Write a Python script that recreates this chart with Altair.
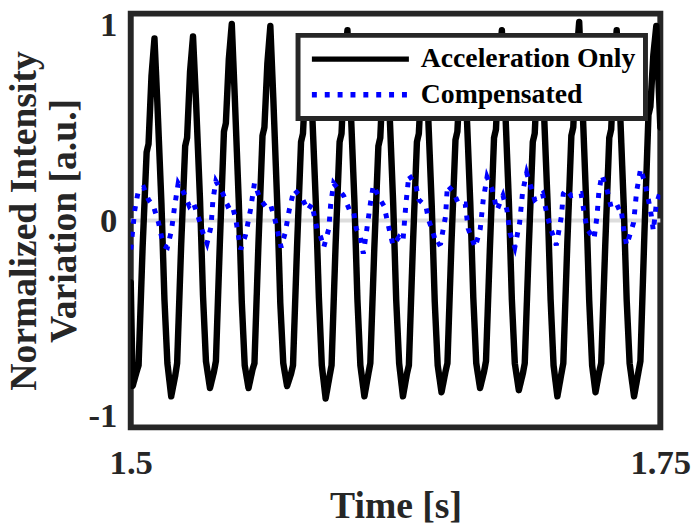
import altair as alt
import pandas as pd

# ---- data ----
series_names = ["Acceleration Only", "Compensated"]
series_colors = ["#000000", "#0000ff"]
x_ticks = [1.5, 1.75]
y_ticks = [-1, 0, 1]
y_title = ["Normalized Intensity", "Variation [a.u.]"]

t_accel = [
    1.5000,
    1.5009, 1.5028, 1.5037, 1.5056, 1.5075, 1.5084, 1.5098, 1.5112, 1.5126, 1.5145, 1.5159, 1.5173,
    1.5191, 1.5210, 1.5219, 1.5238, 1.5257, 1.5266, 1.5280, 1.5294, 1.5308, 1.5327, 1.5341, 1.5355,
    1.5374, 1.5393, 1.5402, 1.5421, 1.5440, 1.5449, 1.5463, 1.5477, 1.5491, 1.5510, 1.5524, 1.5538,
    1.5556, 1.5575, 1.5584, 1.5603, 1.5622, 1.5631, 1.5645, 1.5659, 1.5673, 1.5692, 1.5706, 1.5720,
    1.5738, 1.5757, 1.5766, 1.5785, 1.5804, 1.5813, 1.5827, 1.5841, 1.5855, 1.5874, 1.5888, 1.5902,
    1.5920, 1.5939, 1.5948, 1.5967, 1.5986, 1.5995, 1.6009, 1.6023, 1.6037, 1.6056, 1.6070, 1.6084,
    1.6103, 1.6122, 1.6131, 1.6150, 1.6169, 1.6178, 1.6192, 1.6206, 1.6220, 1.6239, 1.6253, 1.6267,
    1.6285, 1.6304, 1.6313, 1.6332, 1.6351, 1.6360, 1.6374, 1.6388, 1.6402, 1.6421, 1.6435, 1.6449,
    1.6467, 1.6486, 1.6495, 1.6514, 1.6533, 1.6542, 1.6556, 1.6570, 1.6584, 1.6603, 1.6617, 1.6631,
    1.6649, 1.6668, 1.6677, 1.6696, 1.6715, 1.6724, 1.6738, 1.6752, 1.6766, 1.6785, 1.6799, 1.6813,
    1.6832, 1.6851, 1.6860, 1.6879, 1.6898, 1.6907, 1.6921, 1.6935, 1.6949, 1.6968, 1.6982, 1.6996,
    1.7014, 1.7033, 1.7042, 1.7061, 1.7080, 1.7089, 1.7103, 1.7117, 1.7131, 1.7150, 1.7164, 1.7178,
    1.7194, 1.7212, 1.7221, 1.7240, 1.7259, 1.7268, 1.7282, 1.7294, 1.7308, 1.7327, 1.7341, 1.7355,
    1.7376, 1.7397, 1.7406, 1.7425, 1.7444, 1.7453, 1.7467, 1.7481, 1.7495, 1.7500,
]
v_accel = [
    -0.30,
    -0.80, -0.73, -0.70, -0.13, 0.33, 0.37, 0.70, 0.88, 0.56, 0.08, -0.38, -0.69,
    -0.85, -0.75, -0.69, -0.12, 0.36, 0.40, 0.72, 0.89, 0.58, 0.10, -0.36, -0.68,
    -0.81, -0.73, -0.68, -0.10, 0.43, 0.47, 0.78, 0.95, 0.60, 0.09, -0.39, -0.70,
    -0.81, -0.72, -0.69, -0.11, 0.41, 0.45, 0.76, 0.94, 0.59, 0.07, -0.40, -0.69,
    -0.80, -0.74, -0.70, -0.13, 0.38, 0.42, 0.71, 0.87, 0.56, 0.08, -0.37, -0.70,
    -0.86, -0.75, -0.70, -0.12, 0.38, 0.42, 0.74, 0.92, 0.58, 0.09, -0.38, -0.70,
    -0.85, -0.74, -0.69, -0.13, 0.36, 0.40, 0.72, 0.88, 0.57, 0.08, -0.38, -0.69,
    -0.85, -0.74, -0.70, -0.12, 0.38, 0.42, 0.71, 0.86, 0.56, 0.07, -0.39, -0.70,
    -0.83, -0.73, -0.69, -0.11, 0.39, 0.43, 0.72, 0.87, 0.57, 0.08, -0.37, -0.69,
    -0.81, -0.73, -0.68, -0.12, 0.40, 0.44, 0.75, 0.92, 0.59, 0.09, -0.38, -0.69,
    -0.82, -0.74, -0.69, -0.13, 0.38, 0.42, 0.72, 0.88, 0.57, 0.08, -0.38, -0.70,
    -0.85, -0.74, -0.69, -0.11, 0.41, 0.45, 0.78, 0.96, 0.60, 0.09, -0.38, -0.70,
    -0.83, -0.73, -0.69, -0.12, 0.40, 0.44, 0.75, 0.92, 0.58, 0.08, -0.38, -0.69,
    -0.85, -0.73, -0.68, -0.06, 0.51, 0.55, 0.80, 0.94, 0.58, 0.45,
]

t_comp = [
    1.5000, 1.5019, 1.5037, 1.5061, 1.5084, 1.5107, 1.5131, 1.5154, 1.5173, 1.5192,
    1.5206, 1.5224, 1.5252, 1.5276, 1.5294, 1.5318, 1.5341, 1.5360, 1.5379, 1.5388,
    1.5402, 1.5435, 1.5458, 1.5477, 1.5495, 1.5519, 1.5542, 1.5565, 1.5584, 1.5612,
    1.5636, 1.5659, 1.5682, 1.5710, 1.5729, 1.5748, 1.5771, 1.5808, 1.5836, 1.5855,
    1.5879, 1.5897, 1.5911, 1.5935, 1.5944, 1.5958, 1.6005, 1.6033, 1.6051, 1.6065,
    1.6084, 1.6098, 1.6112, 1.6131, 1.6145, 1.6178, 1.6196, 1.6215, 1.6238, 1.6266,
    1.6285, 1.6299, 1.6313, 1.6346, 1.6360, 1.6393, 1.6407, 1.6425, 1.6444, 1.6463,
    1.6486, 1.6495, 1.6523, 1.6547, 1.6579, 1.6593, 1.6626, 1.6650, 1.6664, 1.6682,
    1.6706, 1.6729, 1.6757, 1.6776, 1.6790, 1.6813, 1.6836, 1.6850, 1.6869, 1.6893,
    1.6907, 1.6944, 1.6967, 1.6986, 1.7009, 1.7033, 1.7042, 1.7056, 1.7079, 1.7126,
    1.7140, 1.7154, 1.7187, 1.7201, 1.7210, 1.7224, 1.7248, 1.7271, 1.7313, 1.7327,
    1.7341, 1.7374, 1.7388, 1.7407, 1.7430, 1.7444, 1.7458, 1.7467, 1.7481, 1.7500,
]
v_comp = [
    -0.14, 0.05, 0.15, 0.16, 0.10, 0.07, -0.01, -0.12, -0.13, -0.05,
    0.06, 0.18, 0.13, 0.07, 0.09, 0.02, -0.06, -0.11, -0.03, 0.10,
    0.19, 0.13, 0.07, 0.08, 0.01, -0.14, -0.07, 0.05, 0.18, 0.10,
    0.07, 0.08, 0.00, -0.13, -0.06, 0.05, 0.15, 0.11, 0.05, 0.08,
    -0.04, -0.08, -0.13, -0.04, 0.08, 0.18, 0.12, 0.05, 0.05, -0.04,
    -0.08, -0.16, -0.06, 0.08, 0.17, 0.10, 0.07, -0.02, -0.12, -0.08,
    -0.10, 0.08, 0.22, 0.17, 0.10, 0.07, 0.00, -0.05, -0.12, -0.11,
    0.02, 0.17, 0.14, 0.08, 0.08, -0.04, -0.13, -0.04, 0.10, 0.21,
    0.15, 0.05, 0.12, 0.05, -0.06, -0.13, -0.01, 0.14, 0.23, 0.15,
    0.10, 0.13, 0.02, -0.05, -0.12, 0.02, 0.13, 0.15, 0.12, 0.13,
    0.04, -0.04, -0.09, 0.02, 0.14, 0.22, 0.15, 0.05, 0.07, -0.04,
    -0.12, -0.01, 0.14, 0.25, 0.17, 0.10, 0.02, -0.05, 0.08, 0.14,
]

df_accel = pd.DataFrame({"t": t_accel, "v": v_accel, "series": series_names[0]})
df_comp = pd.DataFrame({"t": t_comp, "v": v_comp, "series": series_names[1]})
df_zero = pd.DataFrame({"v": [0]})

FONT = "Liberation Serif"
DARK = "#262626"

x_enc = alt.X(
    "t:Q",
    scale=alt.Scale(domain=[1.5, 1.75], nice=False, zero=False),
    axis=alt.Axis(
        values=x_ticks, labelExpr="format(datum.value, '~g')", title="Time [s]",
        grid=False, ticks=False, domain=False, labelPadding=19, titlePadding=7,
        labelFlush=False,
    ),
)
y_enc = alt.Y(
    "v:Q",
    scale=alt.Scale(domain=[-1, 1], nice=False),
    axis=alt.Axis(
        values=y_ticks, title=y_title, grid=False, ticks=False, domain=False,
        labelPadding=14, titlePadding=5, titleLineHeight=40,
        labelFlush=True, labelFlushOffset=6,
        labelExpr="replace(format(datum.value, 'd'), '\u2212', '-')",
    ),
)
legend = alt.Legend(title=None)
stroke_enc = alt.Stroke(
    "series:N",
    scale=alt.Scale(domain=series_names, range=series_colors),
    legend=legend,
)
dash_enc = alt.StrokeDash(
    "series:N",
    scale=alt.Scale(domain=series_names, range=[[1, 0], [5, 8]]),
    legend=legend,
)

zero = alt.Chart(df_zero).mark_rule(color="#dddddd", strokeWidth=4).encode(
    y=alt.Y("v:Q", scale=alt.Scale(domain=[-1, 1], nice=False))
)
black = alt.Chart(df_accel).mark_line(
    strokeWidth=6.5, strokeJoin="round", strokeCap="round", clip=True
).encode(x=x_enc, y=y_enc, stroke=stroke_enc, strokeDash=dash_enc, order="t:Q")
blue = alt.Chart(df_comp).mark_line(
    strokeWidth=5, strokeCap="butt", clip=True
).encode(x=x_enc, y=y_enc, stroke=stroke_enc, strokeDash=dash_enc, order="t:Q")

chart = (
    alt.layer(zero, black, blue)
    .properties(
        width=535,
        height=418,
        padding={"left": 124, "top": 3, "right": 32, "bottom": 100},
        autosize=alt.AutoSizeParams(type="none"),
        background="white",
    )
    .configure_view(stroke=DARK, strokeWidth=6)
    .configure_axis(
        labelFont=FONT, labelFontSize=35, labelFontWeight="bold", labelColor=DARK,
        titleFont=FONT, titleFontSize=38, titleFontWeight="bold", titleColor=DARK,
    )
    .configure_legend(
        orient="none", legendX=169, legendY=22, padding=10, rowPadding=8,
        strokeColor=DARK, strokeWidth=5, fillColor="white",
        labelFont=FONT, labelFontSize=28, labelFontWeight="bold", labelColor="#000000",
        labelLimit=0, symbolType="M-4.9,0H4.9", symbolSize=400, symbolStrokeWidth=5.5,
        symbolOffset=39, labelOffset=47,
    )
)

chart.save("out.html", embed_options={"renderer": "svg", "actions": False})
